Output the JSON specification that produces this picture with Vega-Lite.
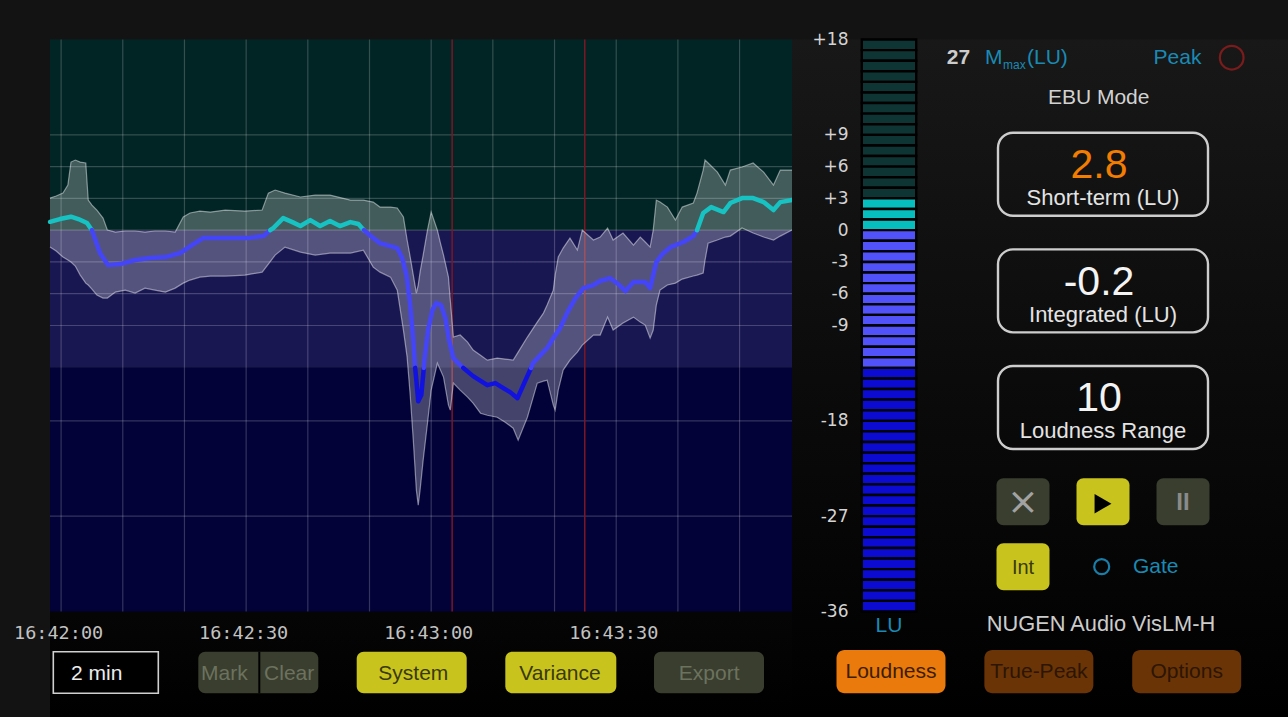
{
"$schema": "https://vega.github.io/schema/vega-lite/v6.json",
"background": "#131313",
"padding": {"left": 13, "top": 30.5, "right": 0, "bottom": 0},
"config": {"view": {"stroke": null}, "font": "Liberation Sans"},
"resolve": {"scale": {"fill": "independent", "stroke": "independent", "color": "independent"}},
"datasets": {
"variance": [
{"sec":-1.8,"lo":-1.6,"hi":3.03},{"sec":-0.8,"lo":-1.97,"hi":3.22},{"sec":0.3,"lo":-2.54,"hi":3.5},{"sec":1.1,"lo":-2.82,"hi":4.26},{"sec":1.6,"lo":-3.01,"hi":6.43},{"sec":2.3,"lo":-3.39,"hi":6.62},{"sec":3.1,"lo":-4.24,"hi":6.43},{"sec":4.0,"lo":-5.0,"hi":6.34},{"sec":4.4,"lo":-5.18,"hi":2.84},{"sec":5.0,"lo":-5.56,"hi":2.37},{"sec":5.8,"lo":-6.13,"hi":1.9},{"sec":6.8,"lo":-6.41,"hi":1.14},{"sec":7.5,"lo":-6.41,"hi":0.01},{"sec":8.8,"lo":-5.85,"hi":-0.18},{"sec":10.4,"lo":-5.66,"hi":-0.08},{"sec":12.0,"lo":-5.94,"hi":-0.08},{"sec":13.6,"lo":-5.47,"hi":-0.18},{"sec":15.2,"lo":-5.66,"hi":-0.08},{"sec":16.9,"lo":-5.85,"hi":-0.08},{"sec":18.5,"lo":-5.47,"hi":-0.18},{"sec":19.8,"lo":-5.0,"hi":1.24},{"sec":20.9,"lo":-4.71,"hi":1.62},{"sec":22.5,"lo":-4.43,"hi":1.8},{"sec":24.2,"lo":-4.33,"hi":1.71},{"sec":26.6,"lo":-4.33,"hi":1.9},{"sec":29.8,"lo":-4.24,"hi":1.8},{"sec":32.6,"lo":-3.96,"hi":1.9},{"sec":33.6,"lo":-3.2,"hi":3.5},{"sec":34.7,"lo":-2.35,"hi":3.79},{"sec":36.3,"lo":-1.6,"hi":3.5},{"sec":38.8,"lo":-2.07,"hi":3.13},{"sec":41.2,"lo":-2.35,"hi":3.31},{"sec":43.6,"lo":-2.16,"hi":3.31},{"sec":46.9,"lo":-2.16,"hi":2.84},{"sec":49.0,"lo":-1.88,"hi":2.84},{"sec":50.6,"lo":-3.49,"hi":2.65},{"sec":51.7,"lo":-3.96,"hi":2.18},{"sec":53.4,"lo":-4.43,"hi":2.18},{"sec":54.5,"lo":-5.66,"hi":2.09},{"sec":55.5,"lo":-9.43,"hi":1.24},{"sec":56.1,"lo":-11.99,"hi":-0.93},{"sec":56.6,"lo":-15.57,"hi":-2.54},{"sec":57.1,"lo":-19.82,"hi":-4.24},{"sec":57.6,"lo":-24.54,"hi":-5.94},{"sec":57.9,"lo":-25.97,"hi":-5.18},{"sec":58.2,"lo":-24.54,"hi":-3.96},{"sec":58.7,"lo":-21.71,"hi":-2.35},{"sec":59.4,"lo":-18.23,"hi":0.01},{"sec":60.0,"lo":-15.1,"hi":1.71},{"sec":61.0,"lo":-12.55,"hi":0.01},{"sec":61.5,"lo":-13.21,"hi":-1.22},{"sec":62.0,"lo":-13.87,"hi":-2.35},{"sec":62.8,"lo":-16.52,"hi":-4.43},{"sec":63.1,"lo":-16.99,"hi":-6.6},{"sec":63.6,"lo":-14.44,"hi":-10.09},{"sec":64.7,"lo":-15.1,"hi":-9.9},{"sec":65.9,"lo":-15.76,"hi":-10.57},{"sec":66.8,"lo":-16.33,"hi":-11.32},{"sec":68.0,"lo":-17.28,"hi":-11.8},{"sec":69.1,"lo":-17.47,"hi":-12.27},{"sec":70.7,"lo":-17.66,"hi":-12.08},{"sec":72.0,"lo":-18.13,"hi":-12.17},{"sec":73.3,"lo":-18.7,"hi":-12.27},{"sec":74.1,"lo":-19.82,"hi":-11.51},{"sec":75.6,"lo":-17.66,"hi":-10.09},{"sec":77.2,"lo":-14.44,"hi":-8.68},{"sec":78.2,"lo":-14.25,"hi":-7.83},{"sec":78.8,"lo":-14.16,"hi":-7.07},{"sec":79.8,"lo":-16.52,"hi":-5.66},{"sec":80.1,"lo":-16.99,"hi":-4.24},{"sec":80.6,"lo":-15.1,"hi":-2.54},{"sec":81.4,"lo":-13.21,"hi":-1.69},{"sec":82.5,"lo":-12.27,"hi":-0.75},{"sec":83.7,"lo":-11.51,"hi":-1.88},{"sec":84.5,"lo":-10.85,"hi":0.01},{"sec":86.3,"lo":-9.9,"hi":-0.93},{"sec":87.4,"lo":-9.9,"hi":-0.65},{"sec":88.6,"lo":-8.21,"hi":0.2},{"sec":89.5,"lo":-9.43,"hi":-0.93},{"sec":91.1,"lo":-8.77,"hi":-0.27},{"sec":92.8,"lo":-8.21,"hi":-1.41},{"sec":93.9,"lo":-8.68,"hi":-0.65},{"sec":94.7,"lo":-8.96,"hi":-1.12},{"sec":95.5,"lo":-10.19,"hi":-1.6},{"sec":96.0,"lo":-9.43,"hi":0.01},{"sec":96.5,"lo":-7.07,"hi":2.84},{"sec":97.1,"lo":-5.66,"hi":2.65},{"sec":98.3,"lo":-5.18,"hi":2.18},{"sec":99.6,"lo":-5.0,"hi":0.95},{"sec":100.7,"lo":-4.62,"hi":2.18},{"sec":102.5,"lo":-4.33,"hi":2.56},{"sec":103.1,"lo":-4.24,"hi":3.5},{"sec":104.1,"lo":-4.05,"hi":5.67},{"sec":104.4,"lo":-2.82,"hi":6.62},{"sec":104.9,"lo":-1.22,"hi":6.34},{"sec":106.4,"lo":-0.93,"hi":5.48},{"sec":107.7,"lo":-0.65,"hi":4.26},{"sec":108.5,"lo":-0.56,"hi":5.67},{"sec":110.4,"lo":0.2,"hi":5.96},{"sec":112.2,"lo":-0.27,"hi":6.34},{"sec":113.9,"lo":-0.65,"hi":5.48},{"sec":115.5,"lo":-0.93,"hi":4.26},{"sec":116.6,"lo":-0.56,"hi":5.67},{"sec":118.5,"lo":0.01,"hi":5.67}
],
"shortterm": [
{"sec":-1.8,"lu":0.79,"zone":"above","seg":1},{"sec":-0.2,"lu":1.05,"zone":"above","seg":1},{"sec":1.6,"lu":1.27,"zone":"above","seg":1},{"sec":2.8,"lu":1.05,"zone":"above","seg":1},{"sec":4.2,"lu":0.67,"zone":"above","seg":1},{"sec":5.0,"lu":0.0,"zone":"above","seg":1},
{"sec":5.0,"lu":0.0,"zone":"target","seg":2},{"sec":6.3,"lu":-2.16,"zone":"target","seg":2},{"sec":7.6,"lu":-3.3,"zone":"target","seg":2},{"sec":9.6,"lu":-3.2,"zone":"target","seg":2},{"sec":12.0,"lu":-2.82,"zone":"target","seg":2},{"sec":14.4,"lu":-2.63,"zone":"target","seg":2},{"sec":16.9,"lu":-2.54,"zone":"target","seg":2},{"sec":19.3,"lu":-2.16,"zone":"target","seg":2},{"sec":21.2,"lu":-1.41,"zone":"target","seg":2},{"sec":23.0,"lu":-0.75,"zone":"target","seg":2},{"sec":25.5,"lu":-0.75,"zone":"target","seg":2},{"sec":27.9,"lu":-0.75,"zone":"target","seg":2},{"sec":30.3,"lu":-0.75,"zone":"target","seg":2},{"sec":32.8,"lu":-0.56,"zone":"target","seg":2},{"sec":33.9,"lu":0.0,"zone":"target","seg":2},
{"sec":33.9,"lu":0.0,"zone":"above","seg":3},{"sec":34.4,"lu":0.2,"zone":"above","seg":3},{"sec":36.0,"lu":1.14,"zone":"above","seg":3},{"sec":37.5,"lu":0.76,"zone":"above","seg":3},{"sec":38.8,"lu":0.39,"zone":"above","seg":3},{"sec":40.4,"lu":0.95,"zone":"above","seg":3},{"sec":42.0,"lu":0.39,"zone":"above","seg":3},{"sec":43.6,"lu":0.86,"zone":"above","seg":3},{"sec":45.2,"lu":0.39,"zone":"above","seg":3},{"sec":46.9,"lu":0.76,"zone":"above","seg":3},{"sec":48.2,"lu":0.58,"zone":"above","seg":3},{"sec":49.1,"lu":0.0,"zone":"above","seg":3},
{"sec":49.1,"lu":0.0,"zone":"target","seg":4},{"sec":50.4,"lu":-0.65,"zone":"target","seg":4},{"sec":51.7,"lu":-1.22,"zone":"target","seg":4},{"sec":53.4,"lu":-1.5,"zone":"target","seg":4},{"sec":54.5,"lu":-1.69,"zone":"target","seg":4},{"sec":55.3,"lu":-2.63,"zone":"target","seg":4},{"sec":56.0,"lu":-4.24,"zone":"target","seg":4},{"sec":56.6,"lu":-7.07,"zone":"target","seg":4},{"sec":57.1,"lu":-10.38,"zone":"target","seg":4},{"sec":57.4,"lu":-13.0,"zone":"target","seg":4},
{"sec":57.4,"lu":-13.0,"zone":"below","seg":5},{"sec":57.6,"lu":-14.16,"zone":"below","seg":5},{"sec":57.9,"lu":-16.16,"zone":"below","seg":5},{"sec":58.4,"lu":-15.57,"zone":"below","seg":5},{"sec":58.8,"lu":-13.0,"zone":"below","seg":5},
{"sec":58.8,"lu":-13.0,"zone":"target","seg":6},{"sec":58.9,"lu":-12.27,"zone":"target","seg":6},{"sec":59.5,"lu":-9.43,"zone":"target","seg":6},{"sec":60.2,"lu":-7.55,"zone":"target","seg":6},{"sec":60.8,"lu":-6.89,"zone":"target","seg":6},{"sec":61.6,"lu":-7.07,"zone":"target","seg":6},{"sec":62.3,"lu":-8.3,"zone":"target","seg":6},{"sec":62.9,"lu":-10.38,"zone":"target","seg":6},{"sec":63.6,"lu":-12.08,"zone":"target","seg":6},{"sec":64.7,"lu":-12.74,"zone":"target","seg":6},{"sec":65.2,"lu":-13.0,"zone":"target","seg":6},
{"sec":65.2,"lu":-13.0,"zone":"below","seg":7},{"sec":66.8,"lu":-13.78,"zone":"below","seg":7},{"sec":69.1,"lu":-14.63,"zone":"below","seg":7},{"sec":70.4,"lu":-14.44,"zone":"below","seg":7},{"sec":71.7,"lu":-14.91,"zone":"below","seg":7},{"sec":72.8,"lu":-15.29,"zone":"below","seg":7},{"sec":74.0,"lu":-15.86,"zone":"below","seg":7},{"sec":75.3,"lu":-14.16,"zone":"below","seg":7},{"sec":76.2,"lu":-13.0,"zone":"below","seg":7},
{"sec":76.2,"lu":-13.0,"zone":"target","seg":8},{"sec":76.5,"lu":-12.55,"zone":"target","seg":8},{"sec":77.7,"lu":-11.8,"zone":"target","seg":8},{"sec":78.8,"lu":-11.13,"zone":"target","seg":8},{"sec":79.8,"lu":-10.19,"zone":"target","seg":8},{"sec":80.9,"lu":-9.25,"zone":"target","seg":8},{"sec":82.1,"lu":-7.74,"zone":"target","seg":8},{"sec":83.4,"lu":-6.41,"zone":"target","seg":8},{"sec":84.7,"lu":-5.47,"zone":"target","seg":8},{"sec":86.3,"lu":-5.18,"zone":"target","seg":8},{"sec":87.4,"lu":-4.8,"zone":"target","seg":8},{"sec":89.0,"lu":-4.52,"zone":"target","seg":8},{"sec":90.3,"lu":-5.08,"zone":"target","seg":8},{"sec":91.5,"lu":-5.75,"zone":"target","seg":8},{"sec":92.8,"lu":-4.9,"zone":"target","seg":8},{"sec":94.7,"lu":-4.9,"zone":"target","seg":8},{"sec":95.5,"lu":-5.47,"zone":"target","seg":8},{"sec":96.5,"lu":-3.01,"zone":"target","seg":8},{"sec":97.5,"lu":-2.25,"zone":"target","seg":8},{"sec":98.8,"lu":-1.6,"zone":"target","seg":8},{"sec":100.9,"lu":-1.12,"zone":"target","seg":8},{"sec":102.5,"lu":-0.56,"zone":"target","seg":8},{"sec":103.1,"lu":0.0,"zone":"target","seg":8},
{"sec":103.1,"lu":0.0,"zone":"above","seg":9},{"sec":104.1,"lu":1.62,"zone":"above","seg":9},{"sec":105.4,"lu":2.18,"zone":"above","seg":9},{"sec":107.4,"lu":1.71,"zone":"above","seg":9},{"sec":108.5,"lu":2.56,"zone":"above","seg":9},{"sec":110.4,"lu":3.03,"zone":"above","seg":9},{"sec":112.2,"lu":3.03,"zone":"above","seg":9},{"sec":113.9,"lu":2.65,"zone":"above","seg":9},{"sec":115.5,"lu":1.9,"zone":"above","seg":9},{"sec":116.6,"lu":2.65,"zone":"above","seg":9},{"sec":118.5,"lu":2.84,"zone":"above","seg":9}
],
"meter": [
{"lo":17,"hi":18,"state":"unlit"},{"lo":16,"hi":17,"state":"unlit"},{"lo":15,"hi":16,"state":"unlit"},{"lo":14,"hi":15,"state":"unlit"},{"lo":13,"hi":14,"state":"unlit"},{"lo":12,"hi":13,"state":"unlit"},{"lo":11,"hi":12,"state":"unlit"},{"lo":10,"hi":11,"state":"unlit"},{"lo":9,"hi":10,"state":"unlit"},{"lo":8,"hi":9,"state":"unlit"},{"lo":7,"hi":8,"state":"unlit"},{"lo":6,"hi":7,"state":"unlit"},{"lo":5,"hi":6,"state":"unlit"},{"lo":4,"hi":5,"state":"unlit"},{"lo":3,"hi":4,"state":"unlit"},
{"lo":2,"hi":3,"state":"short"},{"lo":1,"hi":2,"state":"short"},{"lo":0,"hi":1,"state":"short"},
{"lo":-1,"hi":0,"state":"target"},{"lo":-2,"hi":-1,"state":"target"},{"lo":-3,"hi":-2,"state":"target"},{"lo":-4,"hi":-3,"state":"target"},{"lo":-5,"hi":-4,"state":"target"},{"lo":-6,"hi":-5,"state":"target"},{"lo":-7,"hi":-6,"state":"target"},{"lo":-8,"hi":-7,"state":"target"},{"lo":-9,"hi":-8,"state":"target"},{"lo":-10,"hi":-9,"state":"target"},{"lo":-11,"hi":-10,"state":"target"},{"lo":-12,"hi":-11,"state":"target"},{"lo":-13,"hi":-12,"state":"target"},
{"lo":-14,"hi":-13,"state":"low"},{"lo":-15,"hi":-14,"state":"low"},{"lo":-16,"hi":-15,"state":"low"},{"lo":-17,"hi":-16,"state":"low"},{"lo":-18,"hi":-17,"state":"low"},{"lo":-19,"hi":-18,"state":"low"},{"lo":-20,"hi":-19,"state":"low"},{"lo":-21,"hi":-20,"state":"low"},{"lo":-22,"hi":-21,"state":"low"},{"lo":-23,"hi":-22,"state":"low"},{"lo":-24,"hi":-23,"state":"low"},{"lo":-25,"hi":-24,"state":"low"},{"lo":-26,"hi":-25,"state":"low"},{"lo":-27,"hi":-26,"state":"low"},{"lo":-28,"hi":-27,"state":"low"},{"lo":-29,"hi":-28,"state":"low"},{"lo":-30,"hi":-29,"state":"low"},{"lo":-31,"hi":-30,"state":"low"},{"lo":-32,"hi":-31,"state":"low"},{"lo":-33,"hi":-32,"state":"low"},{"lo":-34,"hi":-33,"state":"low"},{"lo":-35,"hi":-34,"state":"low"},{"lo":-36,"hi":-35,"state":"low"}
]
},
"spacing": 0,
"bounds": "flush",
"hconcat": [
{
"width": 742, "height": 677.5,
"resolve": {"scale": {"x": "independent", "y": "independent"}},
"layer": [
{"data": {"values": [{}]}, "mark": {"type": "rect", "fill": {"gradient": "linear", "x1": 0, "y1": 0, "x2": 0, "y2": 1, "stops": [{"offset": 0, "color": "#161616"}, {"offset": 0.85, "color": "#050505"}, {"offset": 1, "color": "#000000"}]}}, "encoding": {}},
{"data": {"values": [{"zone": "above", "top": 18, "bottom": 0}, {"zone": "target", "top": 0, "bottom": -13}, {"zone": "below", "top": -13, "bottom": -36}]},
 "mark": {"type": "rect"},
 "encoding": {
  "y": {"field": "top", "type": "quantitative", "scale": {"domain": [-45.96, 18], "nice": false, "zero": false}, "axis": null},
  "y2": {"field": "bottom"},
  "fill": {"field": "zone", "type": "nominal", "scale": {"domain": ["above", "target", "below"], "range": ["#012424", "#191752", "#020238"]}, "legend": null}}},
{"data": {"values": [{"sec": 0}, {"sec": 10}, {"sec": 20}, {"sec": 30}, {"sec": 40}, {"sec": 50}, {"sec": 60}, {"sec": 70}, {"sec": 80}, {"sec": 90}, {"sec": 100}, {"sec": 110}]},
 "mark": {"type": "rule", "stroke": "#ffffff", "strokeOpacity": 0.2, "strokeWidth": 1.2},
 "encoding": {
  "x": {"field": "sec", "type": "quantitative", "scale": {"domain": [-1.8, 118.5], "nice": false, "zero": false},
        "axis": {"orient": "bottom", "zindex": 2, "values": [0, 30, 60, 90], "labelExpr": "timeFormat(datetime(2024, 0, 1, 16, 42, datum.value), '%H:%M:%S')", "grid": false, "ticks": false, "tickSize": 0, "domain": false, "offset": -105.5, "labelPadding": 11.5, "labelOffset": -3, "labelFont": "DejaVu Sans Mono", "labelFontSize": 18.5, "labelColor": "#c2c2c2", "labelFlush": false, "labelOverlap": false, "title": null}},
  "y": {"datum": 18, "type": "quantitative", "scale": {"domain": [-45.96, 18], "nice": false, "zero": false}, "axis": null},
  "y2": {"datum": -36}}},
{"data": {"values": [{"lu": 9}, {"lu": 6}, {"lu": 3}, {"lu": 0}, {"lu": -3}, {"lu": -6}, {"lu": -9}, {"lu": -18}, {"lu": -27}]},
 "mark": {"type": "rule", "stroke": "#ffffff", "strokeOpacity": 0.2, "strokeWidth": 1.2},
 "encoding": {"y": {"field": "lu", "type": "quantitative", "scale": {"domain": [-45.96, 18], "nice": false, "zero": false}, "axis": null}}},
{"data": {"values": [{"sec": 63.4}, {"sec": 84.9}]},
 "mark": {"type": "rule", "stroke": "#7d1626", "strokeWidth": 1.5},
 "encoding": {
  "x": {"field": "sec", "type": "quantitative", "scale": {"domain": [-1.8, 118.5], "nice": false, "zero": false}, "axis": null},
  "y": {"datum": 18, "type": "quantitative", "scale": {"domain": [-45.96, 18], "nice": false, "zero": false}, "axis": null},
  "y2": {"datum": -36}}},
{"data": {"name": "variance"},
 "mark": {"type": "area", "fill": "#ffffff", "fillOpacity": 0.26},
 "encoding": {
  "x": {"field": "sec", "type": "quantitative", "scale": {"domain": [-1.8, 118.5], "nice": false, "zero": false}, "axis": null},
  "y": {"field": "hi", "type": "quantitative", "scale": {"domain": [-45.96, 18], "nice": false, "zero": false}, "axis": null},
  "y2": {"field": "lo"}}},
{"data": {"name": "variance"},
 "mark": {"type": "line", "stroke": "#ffffff", "strokeOpacity": 0.45, "strokeWidth": 1.2},
 "encoding": {
  "x": {"field": "sec", "type": "quantitative", "scale": {"domain": [-1.8, 118.5], "nice": false, "zero": false}, "axis": null},
  "y": {"field": "hi", "type": "quantitative", "scale": {"domain": [-45.96, 18], "nice": false, "zero": false}, "axis": null}}},
{"data": {"name": "variance"},
 "mark": {"type": "line", "stroke": "#ffffff", "strokeOpacity": 0.45, "strokeWidth": 1.2},
 "encoding": {
  "x": {"field": "sec", "type": "quantitative", "scale": {"domain": [-1.8, 118.5], "nice": false, "zero": false}, "axis": null},
  "y": {"field": "lo", "type": "quantitative", "scale": {"domain": [-45.96, 18], "nice": false, "zero": false}, "axis": null}}},
{"data": {"name": "shortterm"},
 "mark": {"type": "line", "strokeWidth": 4.5, "strokeCap": "round", "strokeJoin": "round"},
 "encoding": {
  "x": {"field": "sec", "type": "quantitative", "scale": {"domain": [-1.8, 118.5], "nice": false, "zero": false}, "axis": null},
  "y": {"field": "lu", "type": "quantitative", "scale": {"domain": [-45.96, 18], "nice": false, "zero": false}, "axis": null},
  "stroke": {"field": "zone", "type": "nominal", "scale": {"domain": ["above", "target", "below"], "range": ["#17c2c2", "#4545f8", "#1212e0"]}, "legend": null},
  "detail": {"field": "seg", "type": "nominal"}}},
{"layer": [
{"data": {"values": [{"btn": "2 min"}]}, "mark": {"type": "rect", "width": 105, "height": 41.6, "fill": "#000000", "stroke": "#d0d0d0", "strokeWidth": 1.6, "xOffset": -1.7},
 "encoding": {"x": {"field": "btn", "type": "nominal", "scale": {"type": "point", "domain": ["2 min", "Mark/Clear", "System", "Variance", "Export"], "padding": 0.4602, "align": 0.4143, "round": false}, "axis": null},
  "y": {"datum": "bottom", "type": "nominal", "scale": {"type": "point", "domain": ["bottom"], "align": 0.93432, "round": false}, "axis": null}}},
{"data": {"values": [{"btn": "Mark/Clear"}]}, "mark": {"type": "rect", "width": 120, "height": 41.6, "fill": "#393e2f", "cornerRadius": 7},
 "encoding": {"x": {"field": "btn", "type": "nominal", "scale": {"type": "point", "domain": ["2 min", "Mark/Clear", "System", "Variance", "Export"], "padding": 0.4602, "align": 0.4143, "round": false}, "axis": null},
  "y": {"datum": "bottom", "type": "nominal", "scale": {"type": "point", "domain": ["bottom"], "align": 0.93432, "round": false}, "axis": null}}},
{"data": {"values": [{"btn": "Mark/Clear"}]}, "mark": {"type": "rect", "width": 2, "height": 41.6, "fill": "#000000", "xOffset": 1},
 "encoding": {"x": {"field": "btn", "type": "nominal", "scale": {"type": "point", "domain": ["2 min", "Mark/Clear", "System", "Variance", "Export"], "padding": 0.4602, "align": 0.4143, "round": false}, "axis": null},
  "y": {"datum": "bottom", "type": "nominal", "scale": {"type": "point", "domain": ["bottom"], "align": 0.93432, "round": false}, "axis": null}}},
{"data": {"values": [{"btn": "System"}]}, "mark": {"type": "rect", "width": 110, "height": 41.6, "fill": "#c9c41d", "cornerRadius": 7, "xOffset": 2.6},
 "encoding": {"x": {"field": "btn", "type": "nominal", "scale": {"type": "point", "domain": ["2 min", "Mark/Clear", "System", "Variance", "Export"], "padding": 0.4602, "align": 0.4143, "round": false}, "axis": null},
  "y": {"datum": "bottom", "type": "nominal", "scale": {"type": "point", "domain": ["bottom"], "align": 0.93432, "round": false}, "axis": null}}},
{"data": {"values": [{"btn": "Variance"}]}, "mark": {"type": "rect", "width": 111, "height": 41.6, "fill": "#c9c41d", "cornerRadius": 7, "xOffset": 0.9},
 "encoding": {"x": {"field": "btn", "type": "nominal", "scale": {"type": "point", "domain": ["2 min", "Mark/Clear", "System", "Variance", "Export"], "padding": 0.4602, "align": 0.4143, "round": false}, "axis": null},
  "y": {"datum": "bottom", "type": "nominal", "scale": {"type": "point", "domain": ["bottom"], "align": 0.93432, "round": false}, "axis": null}}},
{"data": {"values": [{"btn": "Export"}]}, "mark": {"type": "rect", "width": 110, "height": 41.6, "fill": "#393e2f", "cornerRadius": 7, "xOffset": -1.7},
 "encoding": {"x": {"field": "btn", "type": "nominal", "scale": {"type": "point", "domain": ["2 min", "Mark/Clear", "System", "Variance", "Export"], "padding": 0.4602, "align": 0.4143, "round": false}, "axis": null},
  "y": {"datum": "bottom", "type": "nominal", "scale": {"type": "point", "domain": ["bottom"], "align": 0.93432, "round": false}, "axis": null}}},
{"data": {"values": [{"btn": "2 min", "label": "2 min"}]}, "mark": {"type": "text", "fontSize": 21, "color": "#ececec", "xOffset": -10.8, "yOffset": 1},
 "encoding": {"x": {"field": "btn", "type": "nominal", "scale": {"type": "point", "domain": ["2 min", "Mark/Clear", "System", "Variance", "Export"], "padding": 0.4602, "align": 0.4143, "round": false}, "axis": null},
  "y": {"datum": "bottom", "type": "nominal", "scale": {"type": "point", "domain": ["bottom"], "align": 0.93432, "round": false}, "axis": null}, "text": {"field": "label"}}},
{"data": {"values": [{"btn": "Mark/Clear", "label": "Mark"}]}, "mark": {"type": "text", "fontSize": 21, "color": "#6c725e", "xOffset": -34, "yOffset": 1},
 "encoding": {"x": {"field": "btn", "type": "nominal", "scale": {"type": "point", "domain": ["2 min", "Mark/Clear", "System", "Variance", "Export"], "padding": 0.4602, "align": 0.4143, "round": false}, "axis": null},
  "y": {"datum": "bottom", "type": "nominal", "scale": {"type": "point", "domain": ["bottom"], "align": 0.93432, "round": false}, "axis": null}, "text": {"field": "label"}}},
{"data": {"values": [{"btn": "Mark/Clear", "label": "Clear"}]}, "mark": {"type": "text", "fontSize": 21, "color": "#6c725e", "xOffset": 30.9, "yOffset": 1},
 "encoding": {"x": {"field": "btn", "type": "nominal", "scale": {"type": "point", "domain": ["2 min", "Mark/Clear", "System", "Variance", "Export"], "padding": 0.4602, "align": 0.4143, "round": false}, "axis": null},
  "y": {"datum": "bottom", "type": "nominal", "scale": {"type": "point", "domain": ["bottom"], "align": 0.93432, "round": false}, "axis": null}, "text": {"field": "label"}}},
{"data": {"values": [{"btn": "System", "label": "System"}]}, "mark": {"type": "text", "fontSize": 21, "color": "#3a390a", "xOffset": 4.2, "yOffset": 1},
 "encoding": {"x": {"field": "btn", "type": "nominal", "scale": {"type": "point", "domain": ["2 min", "Mark/Clear", "System", "Variance", "Export"], "padding": 0.4602, "align": 0.4143, "round": false}, "axis": null},
  "y": {"datum": "bottom", "type": "nominal", "scale": {"type": "point", "domain": ["bottom"], "align": 0.93432, "round": false}, "axis": null}, "text": {"field": "label"}}},
{"data": {"values": [{"btn": "Variance", "label": "Variance"}]}, "mark": {"type": "text", "fontSize": 21, "color": "#3a390a", "xOffset": 0.1, "yOffset": 1},
 "encoding": {"x": {"field": "btn", "type": "nominal", "scale": {"type": "point", "domain": ["2 min", "Mark/Clear", "System", "Variance", "Export"], "padding": 0.4602, "align": 0.4143, "round": false}, "axis": null},
  "y": {"datum": "bottom", "type": "nominal", "scale": {"type": "point", "domain": ["bottom"], "align": 0.93432, "round": false}, "axis": null}, "text": {"field": "label"}}},
{"data": {"values": [{"btn": "Export", "label": "Export"}]}, "mark": {"type": "text", "fontSize": 21, "color": "#6c725e", "xOffset": -1.5, "yOffset": 1},
 "encoding": {"x": {"field": "btn", "type": "nominal", "scale": {"type": "point", "domain": ["2 min", "Mark/Clear", "System", "Variance", "Export"], "padding": 0.4602, "align": 0.4143, "round": false}, "axis": null},
  "y": {"datum": "bottom", "type": "nominal", "scale": {"type": "point", "domain": ["bottom"], "align": 0.93432, "round": false}, "axis": null}, "text": {"field": "label"}}}
]}
]
},
{
"width": 496, "height": 677.5,
"resolve": {"scale": {"x": "independent", "y": "independent"}},
"layer": [
{"data": {"values": [{}]}, "mark": {"type": "rect", "fill": {"gradient": "linear", "x1": 0, "y1": 0, "x2": 0, "y2": 1, "stops": [{"offset": 0, "color": "#181818"}, {"offset": 0.5, "color": "#0b0b0b"}, {"offset": 1, "color": "#000000"}]}}, "encoding": {}},
{"data": {"name": "meter"},
 "mark": {"type": "rect", "width": 54.4, "stroke": "#000000", "strokeWidth": 2.4},
 "encoding": {
  "x": {"datum": "meter", "type": "nominal", "scale": {"type": "point", "domain": ["meter"], "align": 0.195565, "round": false}, "axis": null},
  "y": {"field": "hi", "type": "quantitative", "scale": {"domain": [-45.96, 18], "nice": false, "zero": false},
        "axis": {"orient": "left", "zindex": 2, "offset": -69.8, "values": [18, 9, 6, 3, 0, -3, -6, -9, -18, -27, -36], "labelExpr": "datum.value > 0 ? '+' + datum.value : '' + datum.value", "grid": false, "ticks": false, "tickSize": 0, "domain": false, "labelPadding": 13.8, "labelFont": "DejaVu Sans", "labelFontSize": 17, "labelColor": "#d4d4d4", "labelFlush": false, "labelOverlap": false, "labelBaseline": "middle", "title": null}},
  "y2": {"field": "lo"},
  "fill": {"field": "state", "type": "nominal", "scale": {"domain": ["unlit", "short", "target", "low"], "range": ["#0f3434", "#06bebe", "#5252fb", "#0b0bd2"]}, "legend": null}}},
{"data": {"values": [{"unit": "LU"}]},
 "mark": {"type": "text", "fontSize": 21, "color": "#1a8ab4"},
 "encoding": {
  "x": {"datum": "meter", "type": "nominal", "scale": {"type": "point", "domain": ["meter"], "align": 0.195565, "round": false}, "axis": null},
  "y": {"datum": -37.35, "type": "quantitative", "scale": {"domain": [-45.96, 18], "nice": false, "zero": false}, "axis": null},
  "text": {"field": "unit"}}},
{"layer": [
{"data": {"values": [{"col": "c0", "label": "27"}]}, "mark": {"type": "text", "fontSize": 21, "fontWeight": "bold", "color": "#cccccc", "xOffset": 15.5},
 "encoding": {"x": {"field": "col", "type": "nominal", "scale": {"type": "point", "domain": ["cm", "c0", "c1", "c2", "c3", "c4"], "padding": 0.6, "align": 0.7396, "round": false}, "axis": null},
  "y": {"datum": "header", "type": "nominal", "scale": {"type": "point", "domain": ["header"], "align": 0.026863, "round": false}, "axis": null}, "text": {"field": "label"}}},
{"data": {"values": [{"col": "c1", "label": "M"}]}, "mark": {"type": "text", "fontSize": 21, "align": "left", "color": "#1a8ab4", "xOffset": -38},
 "encoding": {"x": {"field": "col", "type": "nominal", "scale": {"type": "point", "domain": ["cm", "c0", "c1", "c2", "c3", "c4"], "padding": 0.6, "align": 0.7396, "round": false}, "axis": null},
  "y": {"datum": "header", "type": "nominal", "scale": {"type": "point", "domain": ["header"], "align": 0.026863, "round": false}, "axis": null}, "text": {"field": "label"}}},
{"data": {"values": [{"col": "c1", "label": "max"}]}, "mark": {"type": "text", "fontSize": 12, "align": "left", "color": "#1a8ab4", "xOffset": -20, "yOffset": 7},
 "encoding": {"x": {"field": "col", "type": "nominal", "scale": {"type": "point", "domain": ["cm", "c0", "c1", "c2", "c3", "c4"], "padding": 0.6, "align": 0.7396, "round": false}, "axis": null},
  "y": {"datum": "header", "type": "nominal", "scale": {"type": "point", "domain": ["header"], "align": 0.026863, "round": false}, "axis": null}, "text": {"field": "label"}}},
{"data": {"values": [{"col": "c1", "label": "(LU)"}]}, "mark": {"type": "text", "fontSize": 21, "align": "left", "color": "#1a8ab4", "xOffset": 4},
 "encoding": {"x": {"field": "col", "type": "nominal", "scale": {"type": "point", "domain": ["cm", "c0", "c1", "c2", "c3", "c4"], "padding": 0.6, "align": 0.7396, "round": false}, "axis": null},
  "y": {"datum": "header", "type": "nominal", "scale": {"type": "point", "domain": ["header"], "align": 0.026863, "round": false}, "axis": null}, "text": {"field": "label"}}},
{"data": {"values": [{"col": "c3", "label": "Peak"}]}, "mark": {"type": "text", "fontSize": 21, "color": "#1a8ab4", "xOffset": -5.5},
 "encoding": {"x": {"field": "col", "type": "nominal", "scale": {"type": "point", "domain": ["cm", "c0", "c1", "c2", "c3", "c4"], "padding": 0.6, "align": 0.7396, "round": false}, "axis": null},
  "y": {"datum": "header", "type": "nominal", "scale": {"type": "point", "domain": ["header"], "align": 0.026863, "round": false}, "axis": null}, "text": {"field": "label"}}},
{"data": {"values": [{"col": "c4", "indicator": "peak"}]}, "mark": {"type": "point", "shape": "circle", "size": 560, "filled": false, "color": "#7a1c1c", "strokeWidth": 2.2, "xOffset": -31.3, "opacity": 1},
 "encoding": {"x": {"field": "col", "type": "nominal", "scale": {"type": "point", "domain": ["cm", "c0", "c1", "c2", "c3", "c4"], "padding": 0.6, "align": 0.7396, "round": false}, "axis": null},
  "y": {"datum": "header", "type": "nominal", "scale": {"type": "point", "domain": ["header"], "align": 0.026863, "round": false}, "axis": null}}}
]},
{"layer": [
{"data": {"values": [{"col": "c2", "label": "EBU Mode"}]}, "mark": {"type": "text", "fontSize": 21, "color": "#d2d2d2", "xOffset": -4.3},
 "encoding": {"x": {"field": "col", "type": "nominal", "scale": {"type": "point", "domain": ["cm", "c0", "c1", "c2", "c3", "c4"], "padding": 0.6, "align": 0.7396, "round": false}, "axis": null},
  "y": {"datum": "mode", "type": "nominal", "scale": {"type": "point", "domain": ["mode"], "align": 0.086642, "round": false}, "axis": null}, "text": {"field": "label"}}}
]},
{"layer": [
{"data": {"values": [{"metric": "Short-term (LU)", "col": "c2"}]},
 "mark": {"type": "rect", "width": 210, "height": 83, "cornerRadius": 15, "fill": "#000000", "fillOpacity": 0, "stroke": "#cdcdcd", "strokeWidth": 2.4},
 "encoding": {"x": {"field": "col", "type": "nominal", "scale": {"type": "point", "domain": ["cm", "c0", "c1", "c2", "c3", "c4"], "padding": 0.6, "align": 0.7396, "round": false}, "axis": null},
  "y": {"field": "metric", "type": "nominal", "scale": {"type": "point", "domain": ["Short-term (LU)"], "align": 0.19882, "round": false}, "axis": null}}},
{"data": {"values": [{"metric": "Short-term (LU)", "col": "c2", "reading": "2.8"}]},
 "mark": {"type": "text", "fontSize": 41, "color": "#f27d00", "xOffset": -4, "yOffset": -8},
 "encoding": {"x": {"field": "col", "type": "nominal", "scale": {"type": "point", "domain": ["cm", "c0", "c1", "c2", "c3", "c4"], "padding": 0.6, "align": 0.7396, "round": false}, "axis": null},
  "y": {"field": "metric", "type": "nominal", "scale": {"type": "point", "domain": ["Short-term (LU)"], "align": 0.19882, "round": false}, "axis": null},
  "text": {"field": "reading"}}},
{"data": {"values": [{"metric": "Short-term (LU)", "col": "c2"}]},
 "mark": {"type": "text", "fontSize": 22, "color": "#e4e4e4", "yOffset": 24},
 "encoding": {"x": {"field": "col", "type": "nominal", "scale": {"type": "point", "domain": ["cm", "c0", "c1", "c2", "c3", "c4"], "padding": 0.6, "align": 0.7396, "round": false}, "axis": null},
  "y": {"field": "metric", "type": "nominal", "scale": {"type": "point", "domain": ["Short-term (LU)"], "align": 0.19882, "round": false}, "axis": null},
  "text": {"field": "metric"}}}
]},
{"layer": [
{"data": {"values": [{"metric": "Integrated (LU)", "col": "c2"}]},
 "mark": {"type": "rect", "width": 210, "height": 83, "cornerRadius": 15, "fill": "#000000", "fillOpacity": 0, "stroke": "#cdcdcd", "strokeWidth": 2.4},
 "encoding": {"x": {"field": "col", "type": "nominal", "scale": {"type": "point", "domain": ["cm", "c0", "c1", "c2", "c3", "c4"], "padding": 0.6, "align": 0.7396, "round": false}, "axis": null},
  "y": {"field": "metric", "type": "nominal", "scale": {"type": "point", "domain": ["Integrated (LU)"], "align": 0.371, "round": false}, "axis": null}}},
{"data": {"values": [{"metric": "Integrated (LU)", "col": "c2", "reading": "-0.2"}]},
 "mark": {"type": "text", "fontSize": 41, "color": "#f4f4f4", "xOffset": -4, "yOffset": -8},
 "encoding": {"x": {"field": "col", "type": "nominal", "scale": {"type": "point", "domain": ["cm", "c0", "c1", "c2", "c3", "c4"], "padding": 0.6, "align": 0.7396, "round": false}, "axis": null},
  "y": {"field": "metric", "type": "nominal", "scale": {"type": "point", "domain": ["Integrated (LU)"], "align": 0.371, "round": false}, "axis": null},
  "text": {"field": "reading"}}},
{"data": {"values": [{"metric": "Integrated (LU)", "col": "c2"}]},
 "mark": {"type": "text", "fontSize": 22, "color": "#e4e4e4", "yOffset": 24},
 "encoding": {"x": {"field": "col", "type": "nominal", "scale": {"type": "point", "domain": ["cm", "c0", "c1", "c2", "c3", "c4"], "padding": 0.6, "align": 0.7396, "round": false}, "axis": null},
  "y": {"field": "metric", "type": "nominal", "scale": {"type": "point", "domain": ["Integrated (LU)"], "align": 0.371, "round": false}, "axis": null},
  "text": {"field": "metric"}}}
]},
{"layer": [
{"data": {"values": [{"metric": "Loudness Range", "col": "c2"}]},
 "mark": {"type": "rect", "width": 210, "height": 83, "cornerRadius": 15, "fill": "#000000", "fillOpacity": 0, "stroke": "#cdcdcd", "strokeWidth": 2.4},
 "encoding": {"x": {"field": "col", "type": "nominal", "scale": {"type": "point", "domain": ["cm", "c0", "c1", "c2", "c3", "c4"], "padding": 0.6, "align": 0.7396, "round": false}, "axis": null},
  "y": {"field": "metric", "type": "nominal", "scale": {"type": "point", "domain": ["Loudness Range"], "align": 0.54317, "round": false}, "axis": null}}},
{"data": {"values": [{"metric": "Loudness Range", "col": "c2", "reading": "10"}]},
 "mark": {"type": "text", "fontSize": 41, "color": "#f4f4f4", "xOffset": -4, "yOffset": -8},
 "encoding": {"x": {"field": "col", "type": "nominal", "scale": {"type": "point", "domain": ["cm", "c0", "c1", "c2", "c3", "c4"], "padding": 0.6, "align": 0.7396, "round": false}, "axis": null},
  "y": {"field": "metric", "type": "nominal", "scale": {"type": "point", "domain": ["Loudness Range"], "align": 0.54317, "round": false}, "axis": null},
  "text": {"field": "reading"}}},
{"data": {"values": [{"metric": "Loudness Range", "col": "c2"}]},
 "mark": {"type": "text", "fontSize": 22, "color": "#e4e4e4", "yOffset": 24},
 "encoding": {"x": {"field": "col", "type": "nominal", "scale": {"type": "point", "domain": ["cm", "c0", "c1", "c2", "c3", "c4"], "padding": 0.6, "align": 0.7396, "round": false}, "axis": null},
  "y": {"field": "metric", "type": "nominal", "scale": {"type": "point", "domain": ["Loudness Range"], "align": 0.54317, "round": false}, "axis": null},
  "text": {"field": "metric"}}}
]},
{"layer": [
{"data": {"values": [{"key": "stop", "col": "c1", "active": false}, {"key": "play", "col": "c2", "active": true}, {"key": "pause", "col": "c3", "active": false}]},
 "mark": {"type": "rect", "width": 53, "height": 47, "cornerRadius": 7},
 "encoding": {"x": {"field": "col", "type": "nominal", "scale": {"type": "point", "domain": ["cm", "c0", "c1", "c2", "c3", "c4"], "padding": 0.6, "align": 0.7396, "round": false}, "axis": null},
  "y": {"datum": "transport", "type": "nominal", "scale": {"type": "point", "domain": ["transport"], "align": 0.68214, "round": false}, "axis": null},
  "fill": {"condition": {"test": "datum.active", "value": "#c9c41d"}, "value": "#393e2f"}}},
{"data": {"values": [{"col": "c1", "glyph": "×"}]},
 "mark": {"type": "text", "fontSize": 38, "font": "DejaVu Sans", "color": "#a2a2a2", "yOffset": 1},
 "encoding": {"x": {"field": "col", "type": "nominal", "scale": {"type": "point", "domain": ["cm", "c0", "c1", "c2", "c3", "c4"], "padding": 0.6, "align": 0.7396, "round": false}, "axis": null},
  "y": {"datum": "transport", "type": "nominal", "scale": {"type": "point", "domain": ["transport"], "align": 0.68214, "round": false}, "axis": null},
  "text": {"field": "glyph"}}},
{"data": {"values": [{"col": "c2"}]},
 "mark": {"type": "point", "shape": "triangle-right", "size": 380, "filled": true, "color": "#000000", "opacity": 1, "yOffset": 2},
 "encoding": {"x": {"field": "col", "type": "nominal", "scale": {"type": "point", "domain": ["cm", "c0", "c1", "c2", "c3", "c4"], "padding": 0.6, "align": 0.7396, "round": false}, "axis": null},
  "y": {"datum": "transport", "type": "nominal", "scale": {"type": "point", "domain": ["transport"], "align": 0.68214, "round": false}, "axis": null}}},
{"data": {"values": [{"col": "c3", "glyph": "II"}]},
 "mark": {"type": "text", "fontSize": 24, "fontWeight": "bold", "color": "#8a8a8a", "yOffset": 1},
 "encoding": {"x": {"field": "col", "type": "nominal", "scale": {"type": "point", "domain": ["cm", "c0", "c1", "c2", "c3", "c4"], "padding": 0.6, "align": 0.7396, "round": false}, "axis": null},
  "y": {"datum": "transport", "type": "nominal", "scale": {"type": "point", "domain": ["transport"], "align": 0.68214, "round": false}, "axis": null},
  "text": {"field": "glyph"}}}
]},
{"layer": [
{"data": {"values": [{"key": "Int", "col": "c1"}]},
 "mark": {"type": "rect", "width": 53, "height": 47, "cornerRadius": 7, "fill": "#c9c41d"},
 "encoding": {"x": {"field": "col", "type": "nominal", "scale": {"type": "point", "domain": ["cm", "c0", "c1", "c2", "c3", "c4"], "padding": 0.6, "align": 0.7396, "round": false}, "axis": null},
  "y": {"datum": "toggles", "type": "nominal", "scale": {"type": "point", "domain": ["toggles"], "align": 0.77808, "round": false}, "axis": null}}},
{"data": {"values": [{"col": "c1", "label": "Int"}]},
 "mark": {"type": "text", "fontSize": 20, "color": "#3a3a10", "yOffset": 1},
 "encoding": {"x": {"field": "col", "type": "nominal", "scale": {"type": "point", "domain": ["cm", "c0", "c1", "c2", "c3", "c4"], "padding": 0.6, "align": 0.7396, "round": false}, "axis": null},
  "y": {"datum": "toggles", "type": "nominal", "scale": {"type": "point", "domain": ["toggles"], "align": 0.77808, "round": false}, "axis": null},
  "text": {"field": "label"}}},
{"data": {"values": [{"col": "c2"}]},
 "mark": {"type": "point", "shape": "circle", "size": 225, "filled": false, "color": "#1a7fa8", "strokeWidth": 2.2, "opacity": 1, "xOffset": -1.3},
 "encoding": {"x": {"field": "col", "type": "nominal", "scale": {"type": "point", "domain": ["cm", "c0", "c1", "c2", "c3", "c4"], "padding": 0.6, "align": 0.7396, "round": false}, "axis": null},
  "y": {"datum": "toggles", "type": "nominal", "scale": {"type": "point", "domain": ["toggles"], "align": 0.77808, "round": false}, "axis": null}}},
{"data": {"values": [{"col": "c3", "label": "Gate"}]},
 "mark": {"type": "text", "fontSize": 21, "color": "#1a8ab4", "xOffset": -27.3},
 "encoding": {"x": {"field": "col", "type": "nominal", "scale": {"type": "point", "domain": ["cm", "c0", "c1", "c2", "c3", "c4"], "padding": 0.6, "align": 0.7396, "round": false}, "axis": null},
  "y": {"datum": "toggles", "type": "nominal", "scale": {"type": "point", "domain": ["toggles"], "align": 0.77808, "round": false}, "axis": null},
  "text": {"field": "label"}}}
]},
{"layer": [
{"data": {"values": [{"col": "c2", "label": "NUGEN Audio VisLM-H"}]}, "mark": {"type": "text", "fontSize": 21.8, "color": "#cccccc", "xOffset": -2},
 "encoding": {"x": {"field": "col", "type": "nominal", "scale": {"type": "point", "domain": ["cm", "c0", "c1", "c2", "c3", "c4"], "padding": 0.6, "align": 0.7396, "round": false}, "axis": null},
  "y": {"datum": "brand", "type": "nominal", "scale": {"type": "point", "domain": ["brand"], "align": 0.86303, "round": false}, "axis": null}, "text": {"field": "label"}}}
]},
{"layer": [
{"data": {"values": [{"btn": "Loudness", "active": true}, {"btn": "True-Peak", "active": false}, {"btn": "Options", "active": false}]},
 "mark": {"type": "rect", "width": 109, "height": 43.3, "cornerRadius": 8},
 "encoding": {"x": {"field": "btn", "type": "nominal", "scale": {"type": "point", "domain": ["Loudness", "True-Peak", "Options"], "padding": 0.67735, "align": 0.49426, "round": false}, "axis": null},
  "y": {"datum": "bottom", "type": "nominal", "scale": {"type": "point", "domain": ["bottom"], "align": 0.93306, "round": false}, "axis": null},
  "fill": {"condition": {"test": "datum.active", "value": "#e97a0b"}, "value": "#6a3406"}}},
{"data": {"values": [{"btn": "Loudness", "active": true}, {"btn": "True-Peak", "active": false}, {"btn": "Options", "active": false}]},
 "mark": {"type": "text", "fontSize": 21},
 "encoding": {"x": {"field": "btn", "type": "nominal", "scale": {"type": "point", "domain": ["Loudness", "True-Peak", "Options"], "padding": 0.67735, "align": 0.49426, "round": false}, "axis": null},
  "y": {"datum": "bottom", "type": "nominal", "scale": {"type": "point", "domain": ["bottom"], "align": 0.93306, "round": false}, "axis": null},
  "text": {"field": "btn"},
  "color": {"condition": {"test": "datum.active", "value": "#3d1d00"}, "value": "#2c1503"}}}
]}
]
}
]
}
